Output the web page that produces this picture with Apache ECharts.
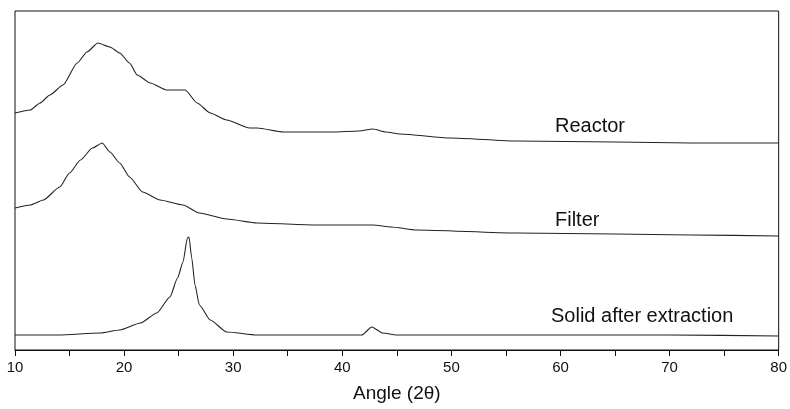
<!DOCTYPE html>
<html>
<head>
<meta charset="utf-8">
<script src="https://cdn.jsdelivr.net/npm/echarts@6/dist/echarts.min.js"></script>
<style>
  html, body { margin: 0; padding: 0; background: #fff; }
  #chart { width: 790px; height: 409px; }
</style>
</head>
<body>
<div id="chart"></div>
<script>
// [angle 2θ, intensity (a.u., offset stacked)]
const reactor = [
  [10.0, 237], [11.4, 240], [12.3, 247], [13.2, 255], [14.4, 265], [15.7, 287],
  [16.6, 298], [17.6, 307], [18.7, 303], [19.6, 297], [20.5, 287], [21.2, 275],
  [22.4, 267], [23.9, 260], [25.6, 260], [26.7, 247], [27.9, 237], [29.4, 230],
  [31.5, 222], [32.2, 222], [34.6, 218], [39.1, 218], [41.5, 219], [42.8, 221],
  [44.0, 218], [45.3, 216], [49.9, 212], [56.0, 209], [65.0, 208], [72.0, 207],
  [80.0, 207]
]
const filter = [
  [10.0, 142], [11.4, 145], [12.6, 150], [14.1, 163], [15.0, 177], [16.0, 190],
  [17.1, 202], [18.0, 207], [18.7, 198], [19.6, 187], [20.5, 173], [21.7, 158],
  [23.3, 150], [25.4, 145], [26.9, 137], [29.4, 131], [32.2, 127], [37.6, 125],
  [42.8, 125], [44.5, 123], [46.8, 120], [56.0, 117], [65.0, 116], [72.0, 115],
  [80.0, 114]
]
const solid = [
  [10.0, 15], [14.0, 15], [17.8, 17], [19.6, 20], [21.5, 27], [23.0, 37],
  [24.2, 53], [24.9, 72], [25.4, 88], [25.8, 112], [25.95, 113], [26.2, 92],
  [26.5, 65], [26.9, 45], [27.9, 30], [29.4, 18], [32.2, 15], [40.0, 15],
  [41.8, 15], [42.7, 23], [43.7, 17], [45.0, 15], [60.0, 15], [70.0, 15],
  [80.0, 14]
]
const seriesNames = ['Reactor', 'Filter', 'Solid after extraction']
const xTicks = [10, 20, 30, 40, 50, 60, 70, 80]

const font = 'Arial, "Liberation Sans", sans-serif'
const lineColor = '#222'

const chart = echarts.init(document.getElementById('chart'))

const line = (name, data) => ({
  name,
  type: 'line',
  data,
  showSymbol: false,
  smooth: 0.2,
  smoothMonotone: 'x',
  lineStyle: { color: lineColor, width: 1.1 },
  silent: true
})

chart.setOption({
  animation: false,
  grid: {
    left: 15, right: 11, top: 11, bottom: 59,
    show: true, borderColor: '#111', borderWidth: 1
  },
  xAxis: {
    type: 'value',
    min: xTicks[0],
    max: xTicks[xTicks.length - 1],
    interval: 10,
    name: 'Angle (2θ)',
    nameLocation: 'middle',
    nameGap: 34,
    nameTextStyle: { fontFamily: font, fontSize: 19, color: '#111' },
    axisLine: { lineStyle: { color: '#111', width: 1 } },
    axisTick: { show: true, inside: false, length: 6, lineStyle: { color: '#111' } },
    minorTick: { show: true, splitNumber: 2, length: 6, lineStyle: { color: '#111' } },
    axisLabel: { fontFamily: font, fontSize: 15, color: '#111', margin: 10 },
    splitLine: { show: false }
  },
  yAxis: {
    type: 'value',
    min: 0,
    max: 339,
    show: false
  },
  graphic: [
    { type: 'text', left: 555, top: 116, style: { text: seriesNames[0], font: '20px ' + font, fill: '#111' } },
    { type: 'text', left: 555, top: 210, style: { text: seriesNames[1], font: '20px ' + font, fill: '#111' } },
    { type: 'text', left: 551, top: 306, style: { text: seriesNames[2], font: '20px ' + font, fill: '#111' } }
  ],
  series: [
    line(seriesNames[0], reactor),
    line(seriesNames[1], filter),
    line(seriesNames[2], solid)
  ]
})
</script>
</body>
</html>
